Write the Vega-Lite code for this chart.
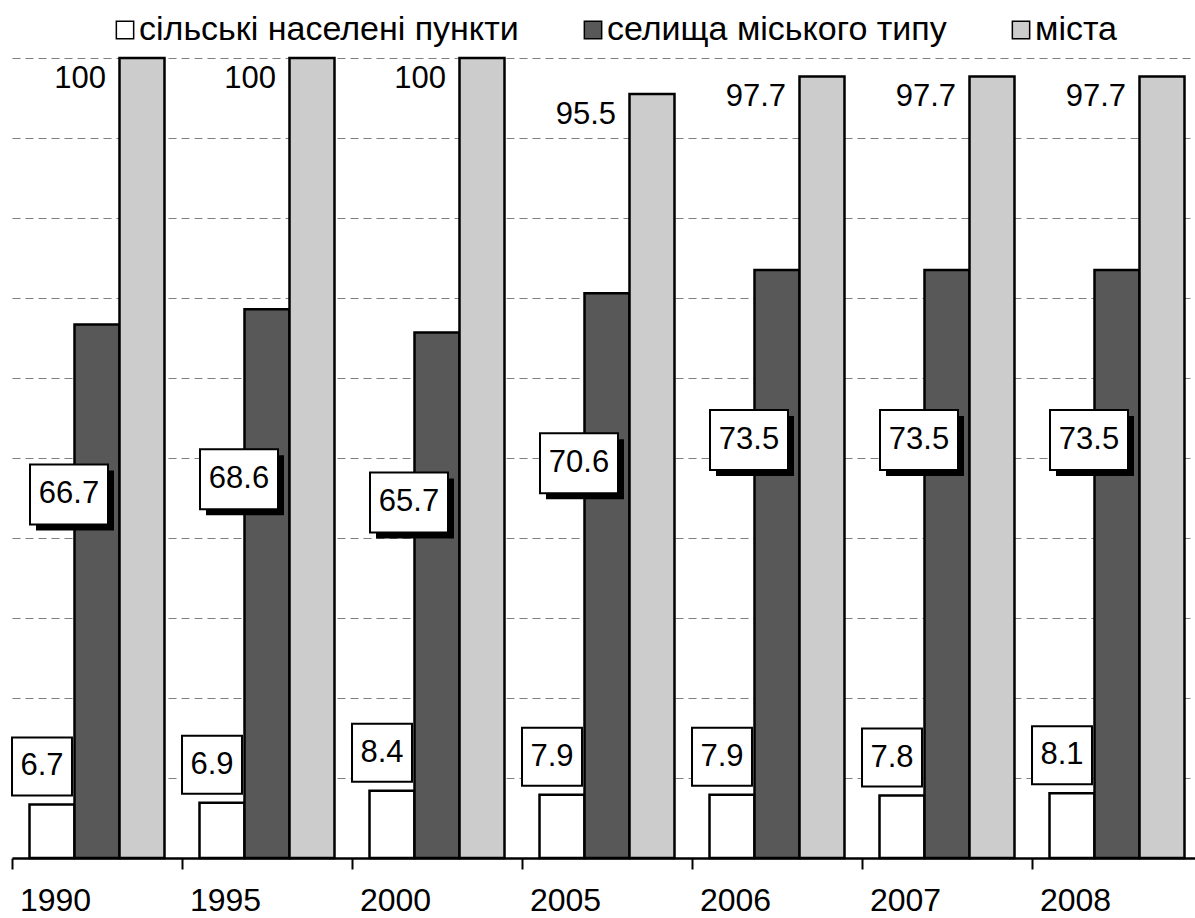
{
  "$schema": "https://vega.github.io/schema/vega-lite/v6.json",
  "width": 1176,
  "height": 800,
  "autosize": {"type": "none"},
  "padding": {"left": 12, "top": 58, "right": 7, "bottom": 60},
  "background": "white",
  "config": {"view": {"stroke": null}, "font": "Liberation Sans"},
  "data": {
    "values": [
      {"year": "1990", "series": "сільські населені пункти", "value": 6.7},
      {"year": "1990", "series": "селища міського типу", "value": 66.7},
      {"year": "1990", "series": "міста", "value": 100},
      {"year": "1995", "series": "сільські населені пункти", "value": 6.9},
      {"year": "1995", "series": "селища міського типу", "value": 68.6},
      {"year": "1995", "series": "міста", "value": 100},
      {"year": "2000", "series": "сільські населені пункти", "value": 8.4},
      {"year": "2000", "series": "селища міського типу", "value": 65.7},
      {"year": "2000", "series": "міста", "value": 100},
      {"year": "2005", "series": "сільські населені пункти", "value": 7.9},
      {"year": "2005", "series": "селища міського типу", "value": 70.6},
      {"year": "2005", "series": "міста", "value": 95.5},
      {"year": "2006", "series": "сільські населені пункти", "value": 7.9},
      {"year": "2006", "series": "селища міського типу", "value": 73.5},
      {"year": "2006", "series": "міста", "value": 97.7},
      {"year": "2007", "series": "сільські населені пункти", "value": 7.8},
      {"year": "2007", "series": "селища міського типу", "value": 73.5},
      {"year": "2007", "series": "міста", "value": 97.7},
      {"year": "2008", "series": "сільські населені пункти", "value": 8.1},
      {"year": "2008", "series": "селища міського типу", "value": 73.5},
      {"year": "2008", "series": "міста", "value": 97.7}
    ]
  },
  "encoding": {
    "x": {
      "field": "year", "type": "nominal", "sort": null,
      "scale": {"range": [0, 1190], "paddingInner": 0, "paddingOuter": 0},
      "axis": {
        "title": null, "labelFontSize": 32, "labelColor": "black", "labelAngle": 0,
        "labelPadding": 16, "labelOffset": -42, "tickBand": "extent", "tickSize": 11, "tickColor": "black",
        "tickWidth": 2, "domainColor": "black", "domainWidth": 2.5, "grid": false
      }
    },
    "y": {
      "field": "value", "type": "quantitative",
      "scale": {"domain": [0, 100], "nice": false},
      "axis": {
        "title": null, "labels": false, "ticks": false, "domain": false, "grid": true,
        "gridDash": [8, 5], "gridColor": "#808080", "gridWidth": 1.2,
        "values": [10, 20, 30, 40, 50, 60, 70, 80, 90, 100]
      }
    }
  },
  "layer": [
    {
      "mark": {"type": "bar", "stroke": "black", "strokeWidth": 2.5},
      "encoding": {
        "xOffset": {
          "field": "series", "type": "nominal",
          "scale": {"domain": ["сільські населені пункти", "селища міського типу", "міста"], "paddingInner": 0, "paddingOuter": 0.389}
        },
        "color": {
          "field": "series", "type": "nominal",
          "scale": {"domain": ["сільські населені пункти", "селища міського типу", "міста"], "range": ["#ffffff", "#585858", "#cccccc"]},
          "legend": {
            "orient": "none", "legendX": 96, "legendY": -45, "direction": "horizontal",
            "title": null, "symbolType": "square", "symbolSize": 300,
            "symbolStrokeColor": "black", "symbolStrokeWidth": 1.5, "symbolOpacity": 1,
            "labelFontSize": 34, "labelFont": "Liberation Sans", "labelColor": "black",
            "labelLimit": 0, "columnPadding": 57, "labelOffset": -3, "padding": 0
          }
        }
      }
    },
    {
      "transform": [{"filter": "datum.series === 'сільські населені пункти'"}],
      "mark": {"type": "point", "shape": "M-1.034,-1H1.034V1H-1.034Z", "size": 3364, "filled": true, "fill": "white", "stroke": "black", "strokeWidth": 2, "opacity": 1, "xOffset": -55, "yOffset": -38}
    },
    {
      "transform": [{"filter": "datum.series === 'сільські населені пункти'"}],
      "mark": {"type": "text", "fontSize": 31, "color": "black", "align": "center", "baseline": "middle", "xOffset": -55, "yOffset": -38},
      "encoding": {"text": {"field": "value", "type": "quantitative"}}
    },
    {
      "transform": [{"filter": "datum.series === 'селища міського типу'"}],
      "mark": {"type": "point", "shape": "M-1.3,-1H1.3V1H-1.3Z", "size": 3600, "filled": true, "fill": "black", "opacity": 1, "xOffset": -22, "yOffset": 176}
    },
    {
      "transform": [{"filter": "datum.series === 'селища міського типу'"}],
      "mark": {"type": "point", "shape": "M-1.3,-1H1.3V1H-1.3Z", "size": 3600, "filled": true, "fill": "white", "stroke": "black", "strokeWidth": 2, "opacity": 1, "xOffset": -28, "yOffset": 170}
    },
    {
      "transform": [{"filter": "datum.series === 'селища міського типу'"}],
      "mark": {"type": "text", "fontSize": 31, "color": "black", "align": "center", "baseline": "middle", "xOffset": -28, "yOffset": 170},
      "encoding": {"text": {"field": "value", "type": "quantitative"}}
    },
    {
      "transform": [{"filter": "datum.series === 'міста'"}],
      "mark": {"type": "text", "fontSize": 31, "color": "black", "align": "right", "baseline": "middle", "xOffset": 9, "yOffset": 21},
      "encoding": {"text": {"field": "value", "type": "quantitative"}}
    }
  ]
}
